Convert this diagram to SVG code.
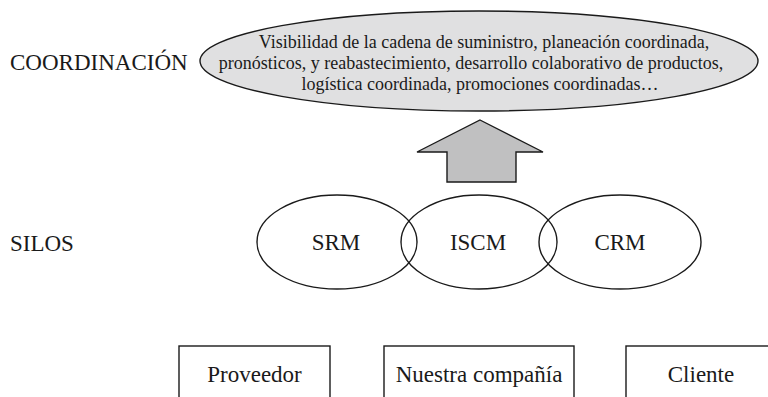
<svg xmlns="http://www.w3.org/2000/svg" width="768" height="397" viewBox="0 0 768 397">
<style>
text{font-family:"Liberation Serif","Times New Roman",serif;fill:#1a1a1a;}
.lbl{font-size:23px;}
.small{font-size:18px;text-anchor:middle;}
.mid{text-anchor:middle;}
.shape{stroke:#1a1a1a;stroke-width:1.4;}
</style>
<rect width="768" height="397" fill="#ffffff"/>
<g id="coordinacion-label"><text class="lbl" x="10" y="70">COORDINACIÓN</text></g>
<g id="silos-label"><text class="lbl" x="10" y="251">SILOS</text></g>
<g id="coordinacion">
<ellipse class="shape" cx="479" cy="61" rx="279" ry="50" fill="#e0e0e1"/>
<text class="small" x="484" y="48">Visibilidad de la cadena de suministro, planeación coordinada,</text>
<text class="small" x="471" y="69">pronósticos, y reabastecimiento, desarrollo colaborativo de productos,</text>
<text class="small" x="480" y="90">logística coordinada, promociones coordinadas…</text>
</g>
<g id="connectors">
<polygon class="shape" points="480,120 543,152 516,152 516,182 447,182 447,152 417,152" fill="#c0c0c1"/>
</g>
<g id="srm"><ellipse class="shape" cx="337" cy="242" rx="80" ry="47" fill="none"/><text class="lbl mid" x="336" y="250">SRM</text></g>
<g id="iscm"><ellipse class="shape" cx="479" cy="242" rx="78" ry="47" fill="none"/><text class="lbl mid" x="478" y="250">ISCM</text></g>
<g id="crm"><ellipse class="shape" cx="620" cy="242" rx="81" ry="47" fill="none"/><text class="lbl mid" x="620" y="250">CRM</text></g>
<g id="proveedor"><rect class="shape" x="179" y="346" width="151" height="60" fill="none"/><text class="lbl mid" x="254.5" y="382">Proveedor</text></g>
<g id="nuestra-compania"><rect class="shape" x="384" y="346" width="190" height="60" fill="none"/><text class="lbl mid" x="479" y="382">Nuestra compañía</text></g>
<g id="cliente"><rect class="shape" x="626" y="346" width="152" height="60" fill="none"/><text class="lbl mid" x="701" y="382">Cliente</text></g>
</svg>
